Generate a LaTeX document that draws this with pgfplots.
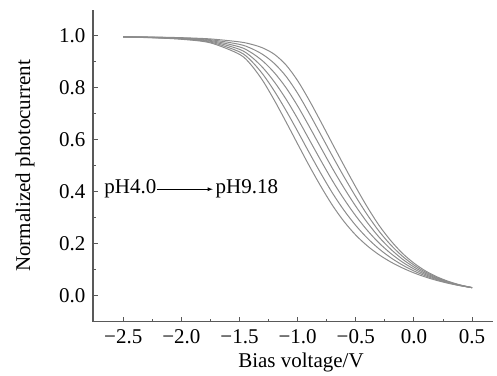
\documentclass[border=0pt]{standalone}
\usepackage{pgfplots}
\pgfplotsset{compat=1.18}
\usepackage{pgfplotstable}
\usepackage{fontspec}
\setmainfont{Liberation Serif}
\pgfplotstableread{
V c1 c2 c3 c4 c5 c6
-2.5 0.9958 0.9961 0.9963 0.9966 0.9968 0.9971
-2.25 0.9931 0.9936 0.9942 0.9947 0.9953 0.9958
-2.0 0.9873 0.9885 0.9897 0.9910 0.9922 0.9934
-1.75 0.9734 0.9764 0.9795 0.9825 0.9856 0.9886
-1.5 0.9293 0.9389 0.9485 0.9580 0.9676 0.9772
-1.4 0.8884 0.9044 0.9204 0.9363 0.9523 0.9683
-1.3 0.8278 0.8530 0.8782 0.9035 0.9287 0.9539
-1.2 0.7521 0.7875 0.8230 0.8584 0.8939 0.9293
-1.1 0.6693 0.7131 0.7569 0.8008 0.8446 0.8884
-1.0 0.5842 0.6329 0.6816 0.7304 0.7791 0.8278
-0.9 0.5000 0.5504 0.6008 0.6513 0.7017 0.7521
-0.8 0.4207 0.4704 0.5201 0.5699 0.6196 0.6693
-0.7 0.3475 0.3948 0.4422 0.4895 0.5369 0.5842
-0.6 0.2850 0.3280 0.3710 0.4140 0.4570 0.5000
-0.5 0.2333 0.2703 0.3073 0.3442 0.3812 0.4182
-0.4 0.1916 0.2214 0.2512 0.2811 0.3109 0.3407
-0.3 0.1577 0.1803 0.2030 0.2256 0.2483 0.2709
-0.2 0.1301 0.1466 0.1631 0.1795 0.1960 0.2125
-0.1 0.1072 0.1185 0.1298 0.1412 0.1525 0.1638
0.0 0.0879 0.0954 0.1030 0.1105 0.1181 0.1256
0.1 0.0718 0.0765 0.0812 0.0859 0.0906 0.0953
0.2 0.0584 0.0612 0.0640 0.0668 0.0696 0.0724
0.3 0.0474 0.0489 0.0503 0.0518 0.0532 0.0547
0.4 0.0384 0.0389 0.0395 0.0400 0.0406 0.0411
0.5 0.0311 0.0311 0.0311 0.0311 0.0311 0.0311
}\datatable
\definecolor{axcol}{gray}{0.35}
\definecolor{crv}{gray}{0.55}
\begin{document}
\begin{tikzpicture}
\begin{axis}[
  scale only axis,
  width=400bp, height=311.7bp,
  xmin=-2.76, xmax=0.68,
  ymin=-0.1, ymax=1.1,
  axis x line*=bottom, axis y line*=left,
  axis line style={axcol, line width=1.2pt, -},
  tick style={axcol, line width=1pt},
  tick align=inside,
  major tick length=5bp, minor tick length=3bp,
  xtick={-2.5,-2,-1.5,-1,-0.5,0,0.5},
  xticklabels={−2.5,−2.0,−1.5,−1.0,−0.5,0.0,0.5},
  ytick={0,0.2,0.4,0.6,0.8,1.0},
  minor x tick num=1, minor y tick num=1,
  /pgf/number format/assume math mode=true,
  ticklabel style={font=\fontsize{21bp}{24bp}\selectfont},
  xticklabel style={yshift=-4bp},
  yticklabel style={xshift=-4bp, /pgf/number format/.cd, fixed, fixed zerofill, precision=1},
  label style={font=\fontsize{21bp}{24bp}\selectfont},
  xlabel={Bias voltage/V},
  ylabel={Normalized photocurrent},
  xlabel style={at={(axis description cs:0.52,-0.13)}, anchor=center},
  ylabel style={at={(axis description cs:-0.17,0.5)}, anchor=center},
  clip=false,
]
\addplot[crv, line width=1pt, smooth] table[x=V, y=c1] {\datatable};
\addplot[crv, line width=1pt, smooth] table[x=V, y=c2] {\datatable};
\addplot[crv, line width=1pt, smooth] table[x=V, y=c3] {\datatable};
\addplot[crv, line width=1pt, smooth] table[x=V, y=c4] {\datatable};
\addplot[crv, line width=1pt, smooth] table[x=V, y=c5] {\datatable};
\addplot[crv, line width=1pt, smooth] table[x=V, y=c6] {\datatable};
\node[anchor=east, font=\fontsize{21bp}{24bp}\selectfont, inner sep=1bp] at (axis cs:-2.205,0.41) {pH4.0};
\draw[-latex, line width=0.8pt] (axis cs:-2.21,0.41) -- (axis cs:-1.73,0.41);
\node[anchor=west, font=\fontsize{21bp}{24bp}\selectfont, inner sep=1bp] at (axis cs:-1.715,0.41) {pH9.18};
\end{axis}
\useasboundingbox (-93bp,-54.3bp) rectangle (404bp,321.7bp);
\end{tikzpicture}
\end{document}
